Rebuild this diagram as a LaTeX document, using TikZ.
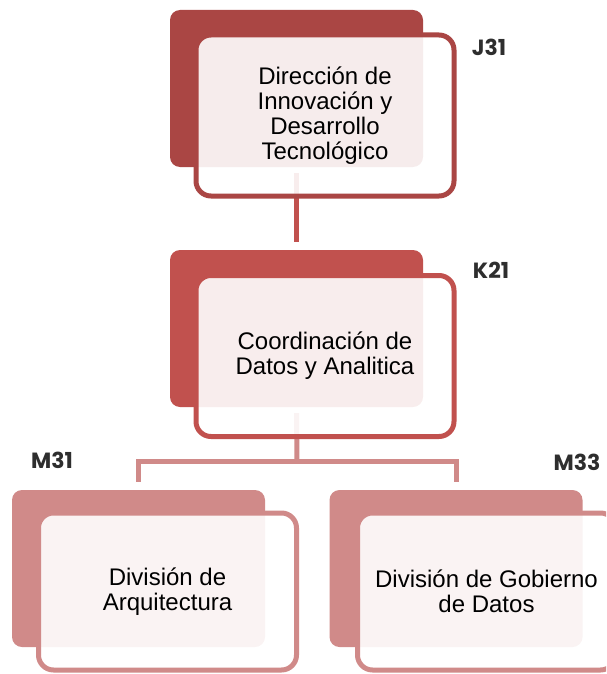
\documentclass[tikz,border=0pt]{standalone}
\usepackage{fontspec}
\setmainfont{Liberation Sans}
\newfontfamily\codefont{Poppins}
\usetikzlibrary{positioning}

\definecolor{dirred}{HTML}{AA4644}
\definecolor{coordred}{HTML}{C1514E}
\definecolor{divpink}{HTML}{D08A89}
\definecolor{codegray}{HTML}{2E2E2E}

\begin{document}
\begin{tikzpicture}[
  x=1pt, y=-1pt,
  backbox/.style={rectangle, rounded corners=10pt, fill=#1, inner sep=0pt,
                  minimum width=253pt, minimum height=157pt},
  frontbox/.style={rectangle, rounded corners=15pt, draw=#1, line width=5pt,
                   fill=white, fill opacity=0.9, text opacity=1, text=black,
                   minimum width=258pt, minimum height=161pt, align=center,
                   font=\fontsize{24}{25}\selectfont},
  link/.style={draw=#1, line width=5pt, shorten <=6pt, shorten >=8pt},
  code/.style={font=\codefont\bfseries\fontsize{22}{24}\selectfont, text=codegray},
]
\useasboundingbox (0,0) rectangle (606,674);
\clip (0,0) rectangle (606,674);

% back panels
\node[backbox=dirred]   (jback) at (296.5,88.5)  {};
\node[backbox=coordred] (kback) at (296.5,328.5) {};
\node[backbox=divpink]  (aback) at (138.5,568.5) {};
\node[backbox=divpink]  (gback) at (456,568.5)   {};

% connectors
\coordinate (split) at (297,461);
\draw[link=coordred] (jback.south) -- (kback.north);
\draw[link=divpink, shorten >=0pt] (kback.south) -- (split);
\draw[link=divpink, shorten <=0pt, line join=miter] (split) -| (aback.north);
\draw[link=divpink, shorten <=0pt, line join=miter] (split) -| (gback.north);

% front panels
\node[frontbox=dirred]   (jfront) at (325,115.5) {Dirección de\\Innovación y\\Desarrollo\\Tecnológico};
\node[frontbox=coordred] (kfront) at (325,356)   {Coordinación de\\Datos y Analitica};
\node[frontbox=divpink, minimum height=157pt] (afront) at (167.5,591.5) {División de\\Arquitectura};
\node[frontbox=divpink, minimum height=157pt] (gfront) at (486.5,591.5) {División de Gobierno\\de Datos};

% codes
\node[code] (j31) at (489,47)  {J31};
\node[code] (k21) at (491,270) {K21};
\node[code] (m31) at (52,460)  {M31};
\node[code] (m33) at (577,462) {M33};

\end{tikzpicture}
\end{document}
